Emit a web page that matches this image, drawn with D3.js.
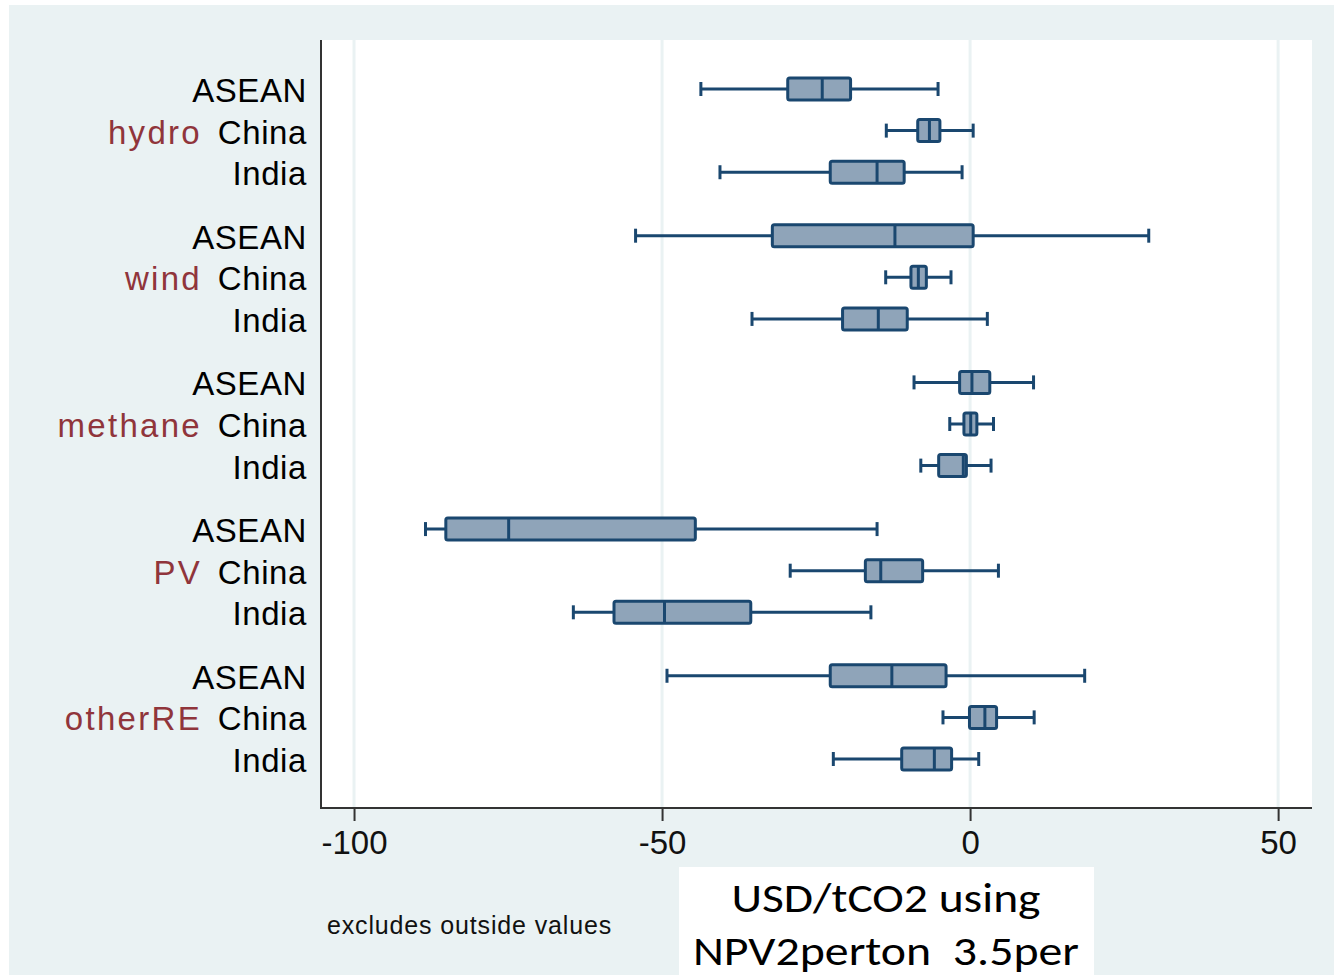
<!doctype html>
<html lang="en">
<head>
<meta charset="utf-8">
<title>Box plot by technology and region</title>
<script src="https://d3js.org/d3.v7.min.js"></script>
<style>
  html, body { margin: 0; padding: 0; background: #fff; }
  svg { display: block; }
  .title { white-space: pre; }
</style>
</head>
<body>
<script>
// categories
var groups = ["hydro", "wind", "methane", "PV", "otherRE"];
var regions = ["ASEAN", "China", "India"];

// box values, one per group x region (hydro ASEAN, hydro China, hydro India, wind ASEAN, ...)
var lowerWhisker = [-43.7, -13.6, -40.6,  -54.3, -13.7, -35.4,  -9.1, -3.3, -8.0,  -88.4, -29.2, -64.4,  -49.2, -4.4, -22.2];
var q1           = [-29.6,  -8.5, -22.7,  -32.1,  -9.6, -20.7,  -1.7, -1.0, -5.1,  -85.1, -17.0, -57.8,  -22.7, -0.1, -11.1];
var median       = [-24.0,  -6.6, -15.1,  -12.2,  -8.4, -14.9,   0.3,  0.1, -1.1,  -74.9, -14.5, -49.6,  -12.7,  2.4,  -5.8];
var q3           = [-19.4,  -4.9, -10.7,    0.5,  -7.1, -10.2,   3.2,  1.1, -0.6,  -44.6,  -7.7, -35.6,   -3.9,  4.3,  -3.0];
var upperWhisker = [ -5.2,   0.5,  -1.3,   29.0,  -3.1,   2.8,  10.3,  3.8,  3.4,  -15.1,   4.6, -16.1,   18.6, 10.4,   1.4];

var xTicks = [-100, -50, 0, 50];
var titleLines = ["USD/tCO2 using", "NPV2perton  3.5per"];
var note = "excludes outside values";

var width = 1334,
    height = 975;

var plot = { left: 322, right: 1312, top: 40, bottom: 808 };
var groupPeriod = 3.525;   // rows per group including the gap
var navy = "#1a476f",
    boxFill = "#8fa4b9",
    cranberry = "#90353b",
    bg = "#eaf2f3";
var font = "'Liberation Sans', Arial, sans-serif";

var svg = d3.select("body")
  .append("svg")
  .attr("width", width)
  .attr("height", height);

// outer graph region
svg.append("rect")
  .attr("x", 9).attr("y", 5)
  .attr("width", width - 9).attr("height", height - 5)
  .attr("fill", bg);

// plot region
svg.append("rect")
  .attr("x", plot.left).attr("y", plot.top)
  .attr("width", plot.right - plot.left).attr("height", plot.bottom - plot.top)
  .attr("fill", "#fff");

var x = d3.scaleLinear()
  .domain([-105.2, 55.5])
  .range([plot.left, plot.right]);

var y = d3.scaleLinear()
  .domain([0, (groups.length - 1) * groupPeriod + regions.length - 1])
  .range([89, 759]);

// build rows from the arrays
var rows = [];
groups.forEach(function(g, gi) {
  regions.forEach(function(r, ri) {
    var k = gi * regions.length + ri;
    rows.push({
      group: g, region: r,
      pos: gi * groupPeriod + ri,
      lo: lowerWhisker[k], q1: q1[k], med: median[k], q3: q3[k], hi: upperWhisker[k]
    });
  });
});

// grid lines
svg.append("g")
  .selectAll("line")
  .data(xTicks)
  .enter()
  .append("line")
  .attr("x1", d => x(d)).attr("x2", d => x(d))
  .attr("y1", plot.top).attr("y2", plot.bottom)
  .attr("stroke", bg)
  .attr("stroke-width", 3);

// x axis
var xAxis = d3.axisBottom(x)
  .tickValues(xTicks)
  .tickSize(13)
  .tickPadding(10)
  .tickFormat(d3.format("d"));

var gx = svg.append("g")
  .attr("transform", "translate(0," + plot.bottom + ")")
  .call(xAxis);
gx.select(".domain").remove();
gx.selectAll(".tick line").attr("stroke", "#333").attr("stroke-width", 2);
gx.selectAll(".tick text")
  .attr("font-family", font)
  .attr("font-size", 33)
  .attr("fill", "#111")
  .text(d => d < 0 ? "-" + Math.abs(d) : d);

// axis lines
svg.append("line")
  .attr("x1", plot.left - 1).attr("x2", plot.left - 1)
  .attr("y1", plot.top).attr("y2", plot.bottom + 1)
  .attr("stroke", "#333").attr("stroke-width", 2);
svg.append("line")
  .attr("x1", plot.left - 2).attr("x2", plot.right)
  .attr("y1", plot.bottom).attr("y2", plot.bottom)
  .attr("stroke", "#333").attr("stroke-width", 2);

// boxes
var boxH = 22, capH = 14, lw = 3;
var box = svg.append("g")
  .selectAll("g")
  .data(rows)
  .enter()
  .append("g")
  .attr("transform", d => "translate(0," + y(d.pos) + ")");

box.append("line")
  .attr("x1", d => x(d.lo)).attr("x2", d => x(d.hi))
  .attr("y1", 0).attr("y2", 0)
  .attr("stroke", navy).attr("stroke-width", lw);

box.append("line")
  .attr("x1", d => x(d.lo)).attr("x2", d => x(d.lo))
  .attr("y1", -capH / 2).attr("y2", capH / 2)
  .attr("stroke", navy).attr("stroke-width", lw);

box.append("line")
  .attr("x1", d => x(d.hi)).attr("x2", d => x(d.hi))
  .attr("y1", -capH / 2).attr("y2", capH / 2)
  .attr("stroke", navy).attr("stroke-width", lw);

box.append("rect")
  .attr("x", d => x(d.q1))
  .attr("width", d => x(d.q3) - x(d.q1))
  .attr("y", -boxH / 2).attr("height", boxH)
  .attr("rx", 2)
  .attr("fill", boxFill)
  .attr("stroke", navy).attr("stroke-width", lw);

box.append("line")
  .attr("x1", d => x(d.med)).attr("x2", d => x(d.med))
  .attr("y1", -boxH / 2).attr("y2", boxH / 2)
  .attr("stroke", navy).attr("stroke-width", lw);

// row labels
svg.append("g")
  .selectAll("text")
  .data(rows)
  .enter()
  .append("text")
  .attr("x", 307)
  .attr("y", d => y(d.pos) + 13)
  .attr("text-anchor", "end")
  .attr("font-family", font)
  .attr("font-size", 33)
  .attr("letter-spacing", 0.6)
  .attr("fill", "#000")
  .text(d => d.region);

// group labels, on the middle row
svg.append("g")
  .selectAll("text")
  .data(groups)
  .enter()
  .append("text")
  .attr("x", 202)
  .attr("y", (d, i) => y(i * groupPeriod + 1) + 13)
  .attr("text-anchor", "end")
  .attr("font-family", font)
  .attr("font-size", 33)
  .attr("letter-spacing", 2.3)
  .attr("fill", cranberry)
  .text(d => d);

// note
svg.append("text")
  .attr("x", 327)
  .attr("y", 934)
  .attr("font-family", font)
  .attr("font-size", 25)
  .attr("letter-spacing", 0.85)
  .attr("fill", "#111")
  .text(note);

// title box
svg.append("rect")
  .attr("x", 679).attr("y", 867)
  .attr("width", 415).attr("height", height - 867)
  .attr("fill", "#fff");

var titleWidths = [309, 386];
svg.append("g")
  .selectAll("text")
  .data(titleLines)
  .enter()
  .append("text")
  .attr("class", "title")
  .attr("x", 886)
  .attr("y", (d, i) => 912 + i * 53)
  .attr("text-anchor", "middle")
  .attr("font-family", "Carlito, Lato, 'Open Sans', sans-serif")
  .attr("font-size", 42)
  .attr("fill", "#000")
  .attr("textLength", (d, i) => titleWidths[i])
  .attr("lengthAdjust", "spacingAndGlyphs")
  .text(d => d);
</script>
</body>
</html>
